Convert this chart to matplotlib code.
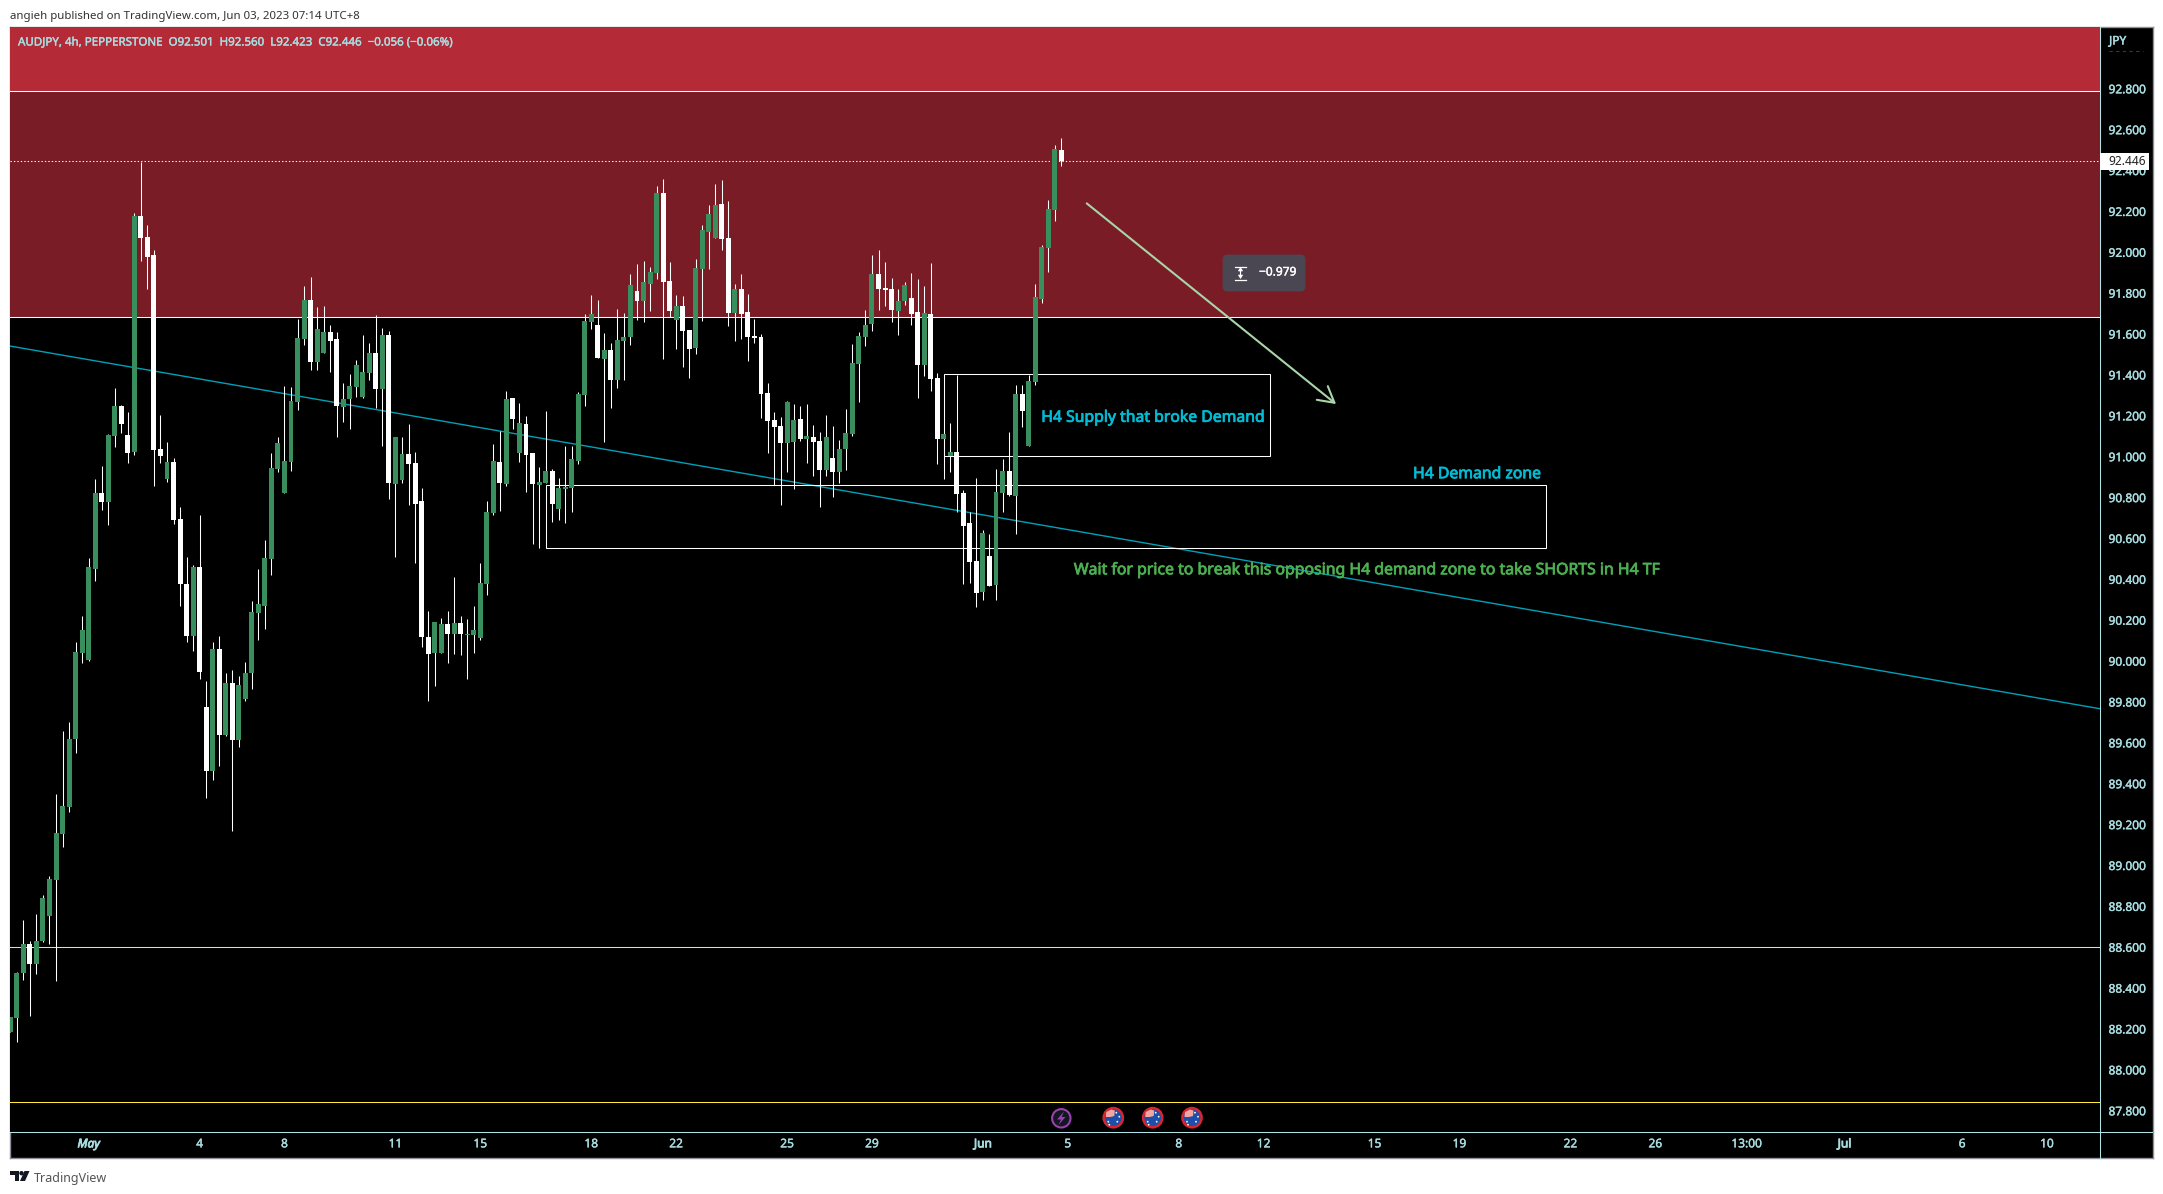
"""
plot.py - AUDJPY 4h TradingView snapshot, candles + hand drawn zones
Output: out.png
"""

import matplotlib
matplotlib.use("Agg")
import matplotlib.pyplot as plt
import matplotlib.patheffects as pe
from matplotlib.patches import Rectangle, Circle, Polygon, FancyBboxPatch
from matplotlib.lines import Line2D
from matplotlib.transforms import blended_transform_factory

# candles, oldest first
candle_open = [
    88.20, 88.268, 88.487, 88.627, 88.529, 88.641, 88.763, 88.939, 89.163, 89.294,
    89.627, 90.046, 90.011, 90.455, 90.826, 90.783, 91.103, 91.251, 91.11, 91.025,
    92.178, 92.075, 91.988, 91.042, 90.894, 90.978, 90.699, 90.383, 90.13, 90.465,
    89.783, 89.473, 90.064, 89.646, 89.9, 89.621, 89.822, 89.947, 90.241, 90.276,
    90.504, 90.943, 90.826, 90.978, 91.27, 91.578, 91.768, 91.467, 91.51, 91.612,
    91.578, 91.245, 91.285, 91.345, 91.297, 91.414, 91.51, 91.336, 91.597, 90.869,
    90.89, 91.017, 90.972, 90.787, 90.124, 90.046, 90.046, 90.188, 90.138, 90.192,
    90.135, 90.134, 90.12, 90.383, 90.73, 90.978, 90.871, 91.29, 91.022, 91.163,
    91.022, 90.866, 90.876, 90.934, 90.749, 90.846, 90.851, 90.983, 91.305, 91.661,
    91.646, 91.48, 91.524, 91.378, 91.568, 91.588, 91.812, 91.763, 91.846, 91.9,
    92.29, 91.861, 91.671, 91.739, 91.622, 91.534, 91.92, 92.1, 92.071, 92.237,
    92.071, 91.705, 91.822, 91.71, 91.593, 91.588, 91.315, 91.183, 91.154, 91.071,
    91.076, 91.188, 91.09, 91.1, 91.08, 90.939, 90.998, 90.929, 91.041, 91.115,
    91.456, 91.588, 91.651, 91.895, 91.827, 91.822, 91.715, 91.763, 91.778, 91.71,
    91.451, 91.7, 91.388, 91.09, 91.007, 91.027, 90.827, 90.68, 90.495, 90.344,
    90.52, 90.378, 90.827, 90.934, 90.812, 91.31, 91.056, 91.368, 91.773, 92.022,
    92.207, 92.501,
]
candle_high = [
    88.27, 88.49, 88.744, 88.64, 88.773, 88.867, 88.958, 89.36, 89.666, 89.709,
    90.099, 90.227, 90.51, 90.894, 90.958, 91.116, 91.34, 91.255, 91.222, 92.193,
    92.443, 92.134, 92.012, 91.206, 91.075, 90.997, 90.758, 90.514, 90.475, 90.719,
    89.908, 90.099, 90.128, 89.947, 89.964, 89.933, 90.003, 90.298, 90.455, 90.596,
    91.021, 91.1, 91.349, 91.344, 91.674, 91.837, 91.88, 91.734, 91.739, 91.646,
    91.612, 91.362, 91.407, 91.475, 91.6, 91.558, 91.695, 91.632, 91.617, 91.1,
    91.1, 91.163, 91.025, 90.851, 90.249, 90.198, 90.216, 90.249, 90.416, 90.227,
    90.212, 90.276, 90.483, 90.787, 91.064, 91.13, 91.324, 91.29, 91.264, 91.202,
    91.022, 90.954, 91.227, 90.944, 90.9, 91.056, 91.056, 91.32, 91.7, 91.793,
    91.768, 91.607, 91.559, 91.724, 91.705, 91.895, 91.944, 91.959, 91.929, 92.324,
    92.359, 91.954, 91.793, 91.788, 91.622, 91.968, 92.134, 92.232, 92.334, 92.354,
    92.251, 91.846, 91.895, 91.798, 91.676, 91.602, 91.363, 91.222, 91.198, 91.276,
    91.261, 91.251, 91.261, 91.159, 91.124, 91.207, 91.154, 91.085, 91.237, 91.554,
    91.612, 91.72, 91.988, 92.012, 91.954, 91.876, 91.822, 91.856, 91.9, 91.871,
    91.837, 91.949, 91.412, 91.115, 91.168, 91.402, 90.841, 90.734, 90.9, 90.646,
    90.627, 90.944, 90.993, 91.124, 91.354, 91.354, 91.402, 91.846, 92.037, 92.256,
    92.524, 92.56,
]
candle_low = [
    88.20, 88.15, 88.45, 88.278, 88.48, 88.637, 88.627, 88.446, 89.101, 89.272,
    89.56, 89.997, 90.007, 90.397, 90.744, 90.67, 91.05, 91.12, 90.972, 91.011,
    91.96, 91.82, 90.863, 90.972, 90.88, 90.674, 90.278, 90.1, 90.056, 89.921,
    89.34, 89.428, 89.496, 89.641, 89.18, 89.59, 89.812, 89.869, 90.11, 90.165,
    90.426, 90.927, 90.826, 90.935, 91.23, 91.55, 91.427, 91.427, 91.51, 91.418,
    91.10, 91.173, 91.14, 91.293, 91.288, 91.378, 91.24, 91.054, 90.80, 90.516,
    90.876, 90.77, 90.487, 90.077, 89.81, 89.886, 90.046, 90.0, 90.042, 90.036,
    89.921, 90.046, 90.11, 90.33, 90.721, 90.738, 90.863, 91.139, 90.978, 90.832,
    90.578, 90.56, 90.874, 90.685, 90.695, 90.682, 90.734, 90.968, 91.251, 91.627,
    91.485, 91.076, 91.241, 91.339, 91.378, 91.549, 91.67, 91.661, 91.715, 91.871,
    91.48, 91.685, 91.529, 91.441, 91.388, 91.505, 91.666, 91.92, 92.071, 92.012,
    91.641, 91.568, 91.578, 91.471, 91.559, 91.193, 91.022, 90.866, 90.768, 90.929,
    90.846, 91.08, 90.973, 90.91, 90.759, 90.91, 90.807, 90.876, 90.939, 91.105,
    91.271, 91.544, 91.617, 91.72, 91.739, 91.661, 91.598, 91.744, 91.646, 91.29,
    91.398, 91.324, 90.968, 90.895, 90.929, 90.734, 90.383, 90.388, 90.27, 90.305,
    90.373, 90.305, 90.734, 90.812, 90.627, 91.149, 91.056, 91.354, 91.754, 91.905,
    92.154, 92.423,
]
candle_close = [
    88.27, 88.487, 88.627, 88.529, 88.64, 88.851, 88.943, 89.167, 89.298, 89.627,
    90.05, 90.159, 90.465, 90.826, 90.783, 91.11, 91.251, 91.163, 91.021, 92.178,
    92.072, 91.98, 91.038, 91.005, 90.978, 90.695, 90.383, 90.13, 90.465, 89.954,
    89.473, 90.064, 89.646, 89.9, 89.621, 89.89, 89.947, 90.245, 90.284, 90.51,
    90.947, 91.071, 90.982, 91.276, 91.581, 91.768, 91.467, 91.627, 91.612, 91.57,
    91.253, 91.285, 91.349, 91.451, 91.417, 91.51, 91.336, 91.597, 90.878, 91.1,
    91.017, 90.966, 90.775, 90.124, 90.042, 90.198, 90.188, 90.138, 90.192, 90.138,
    90.138, 90.159, 90.387, 90.734, 90.982, 90.875, 91.285, 91.188, 91.168, 91.012,
    90.871, 90.882, 90.934, 90.773, 90.851, 90.856, 90.993, 91.31, 91.666, 91.7,
    91.485, 91.524, 91.378, 91.573, 91.588, 91.841, 91.763, 91.856, 91.905, 92.29,
    91.856, 91.715, 91.739, 91.617, 91.529, 91.924, 92.11, 92.188, 92.232, 92.066,
    91.705, 91.822, 91.7, 91.588, 91.583, 91.31, 91.178, 91.149, 91.071, 91.271,
    91.183, 91.09, 91.105, 91.076, 90.939, 91.1, 90.929, 91.041, 91.12, 91.461,
    91.593, 91.646, 91.895, 91.822, 91.817, 91.72, 91.763, 91.841, 91.7, 91.451,
    91.705, 91.383, 91.09, 91.115, 91.027, 90.822, 90.666, 90.49, 90.339, 90.632,
    90.373, 90.832, 90.934, 90.817, 91.31, 91.227, 91.373, 91.783, 92.027, 92.212,
    92.505, 92.446,
]

price_ticks = [92.8, 92.6, 92.4, 92.2, 92.0, 91.8, 91.6, 91.4, 91.2, 91.0, 90.8,
               90.6, 90.4, 90.2, 90.0, 89.8, 89.6, 89.4, 89.2, 89.0, 88.8, 88.6,
               88.4, 88.2, 88.0, 87.8]
time_ticks = [12, 29, 42, 59, 72, 89, 102, 119, 132, 149, 162, 179, 192, 209, 222,
              239, 252, 266, 281, 299, 312]
time_labels = ["May", "4", "8", "11", "15", "18", "22", "25", "29", "Jun", "5", "8",
               "12", "15", "19", "22", "26", "13:00", "Jul", "6", "10"]

last_price = 92.446
supply_zone = (91.680, 92.787)
trend_line_bars = [-0.05, 320.05]
trend_line_prices = [91.539, 89.765]
level_lines = [88.6, 87.84]
supply_box = (143.1, 192.9, 91.0, 91.401)
demand_box = (82.0, 235.3, 90.55, 90.858)
arrow_from = (164.9, 92.237)
arrow_to = (203.1, 91.255)
range_value = "\u22120.979"

UP_COLOR = "#388E5C"
DOWN_COLOR = "#FFFFFF"
AXIS_TEXT = "#A8DCE0"
SPINE = "#B2E3E6"
CYAN_TEXT = "#00BCD4"
GREEN_TEXT = "#4CAF50"
FONT = "Noto Sans"

W, H = 2163, 1194
# chart pane edges in pixels
PANE_L, PANE_R, PANE_T, PANE_B = 10, 2099.5, 27, 1131.5
LINE_1PX = 0.75


def rescale(prices):
    # candle readings were taken at 205 px per yen, the scale is really 204.4
    return [92.8 - (92.8 - p) * 205 / 204.4 - 0.001 for p in prices]


def thick(color, width=0.3):
    # Noto Sans only comes in one weight here, so a thin stroke stands in for bold
    return [pe.withStroke(linewidth=width, foreground=color)]


candle_open = rescale(candle_open)
candle_high = rescale(candle_high)
candle_low = rescale(candle_low)
candle_close = rescale(candle_close)

plt.rcParams["font.family"] = [FONT, "DejaVu Sans"]
fig = plt.figure(figsize=(W / 100, H / 100), dpi=100, facecolor="white")

# black backing that also holds the price and time scales
back = fig.add_axes([10 / W, 1 - 1158 / H, (2152.5 - 10) / W, (1158 - 27) / H])
back.set_facecolor("black")
back.set_xticks([])
back.set_yticks([])
for s in back.spines.values():
    s.set_color("#8C8F99")
    s.set_linewidth(1.0)

ax = fig.add_axes([PANE_L / W, 1 - PANE_B / H, (PANE_R - PANE_L) / W, (PANE_B - PANE_T) / H])
ax.set_facecolor("black")
ax.set_xlim(-0.05, 320.05)
ax.set_ylim(92.8 - (PANE_B - 88.3) / 204.4, 92.8 + (88.3 - PANE_T) / 204.4)

for name in ["top", "left"]:
    ax.spines[name].set_visible(False)
for name in ["bottom", "right"]:
    ax.spines[name].set_color(SPINE)
    ax.spines[name].set_linewidth(LINE_1PX)

# supply zone: the band itself plus whatever sits above it
ax.axhspan(supply_zone[1], 93.2, color="#B42A37", lw=0, zorder=0)
ax.axhspan(supply_zone[0], supply_zone[1], color="#7A1C25", lw=0, zorder=0)
for lvl in supply_zone:
    ax.axhline(lvl, color="white", lw=LINE_1PX, zorder=1)
for lvl in level_lines:
    ax.axhline(lvl, color="#FFE93B", lw=LINE_1PX, zorder=1)
ax.axhline(last_price, color="white", lw=LINE_1PX, ls=(0, (1.3, 2)), zorder=1)
ax.plot(trend_line_bars, trend_line_prices, color="#00A0B8", lw=1.0, zorder=1)

for x0, x1, y0, y1 in [supply_box, demand_box]:
    ax.add_patch(Rectangle((x0, y0), x1 - x0, y1 - y0, fill=False,
                           edgecolor="white", lw=LINE_1PX, zorder=1))

# candles go on top of all the drawings
xs = list(range(len(candle_open)))
colors = [UP_COLOR if c >= o else DOWN_COLOR for o, c in zip(candle_open, candle_close)]
ax.vlines(xs, candle_low, candle_high, color="white", lw=LINE_1PX, zorder=3)
bottoms = [min(o, c) for o, c in zip(candle_open, candle_close)]
heights = [max(abs(c - o), 0.006) for o, c in zip(candle_open, candle_close)]
ax.bar(xs, heights, bottom=bottoms, width=0.76, color=colors, lw=0, zorder=4)

ax.annotate("", xy=arrow_to, xytext=arrow_from, zorder=5,
            arrowprops=dict(arrowstyle="->,head_length=0.8,head_width=0.45",
                            color="#A9D6A8", lw=1.5, shrinkA=0, shrinkB=0,
                            mutation_scale=14))

ax.text(175.1, 91.188, "H4 Supply that broke Demand", color=CYAN_TEXT, fontsize=11.35,
        ha="center", va="center", zorder=6, path_effects=thick(CYAN_TEXT, 0.55))
ax.text(224.7, 90.912, "H4 Demand zone", color=CYAN_TEXT, fontsize=11.35,
        ha="center", va="center", zorder=6, path_effects=thick(CYAN_TEXT, 0.55))
ax.text(207.9, 90.442, "Wait for price to break this opposing H4 demand zone to take SHORTS in H4 TF",
        color=GREEN_TEXT, fontsize=11.4, ha="center", va="center", zorder=6,
        path_effects=thick(GREEN_TEXT, 0.55))

# price scale
ax.yaxis.tick_right()
ax.set_yticks(price_ticks)
ax.set_yticklabels([f"{p:.3f}" for p in price_ticks])
ax.tick_params(axis="y", length=0, pad=6.5, labelsize=8.6, labelcolor=AXIS_TEXT)
for lab in ax.get_yticklabels():
    lab.set_path_effects(thick(AXIS_TEXT))

# time scale
ax.set_xticks(time_ticks)
ax.set_xticklabels(time_labels)
ax.tick_params(axis="x", length=0, pad=4.2, labelsize=8.6, labelcolor=AXIS_TEXT)
for lab in ax.get_xticklabels():
    if lab.get_text() in ("May", "Jun", "Jul"):
        lab.set_path_effects(thick(AXIS_TEXT, 0.6))
    else:
        lab.set_path_effects(thick(AXIS_TEXT))
    if lab.get_text() == "May":
        lab.set_fontstyle("italic")

# tag with the last price on the scale
trans = blended_transform_factory(ax.transAxes, ax.transData)
ax.add_patch(Rectangle((1.0, last_price - 0.046), 49 / (PANE_R - PANE_L), 0.084, transform=trans,
                       facecolor="white", edgecolor="none", clip_on=False, zorder=7))
ax.text(1.0 + 9 / (PANE_R - PANE_L), last_price - 0.005, f"{last_price:.3f}", transform=trans,
        color="#222222", fontsize=8.6, ha="left", va="center", clip_on=False, zorder=8)

# overlay in pixels, for the page furniture and the icons
ov = fig.add_axes([0, 0, 1, 1], facecolor="none")
ov.set_xlim(0, W)
ov.set_ylim(H, 0)
ov.axis("off")

# scale separators run on through the corner cell
ov.add_artist(Line2D([2099.5, 2099.5], [1131.5, 1158], color=SPINE, lw=LINE_1PX))
ov.add_artist(Line2D([2099.5, 2152], [1131.5, 1131.5], color=SPINE, lw=LINE_1PX))

ov.text(10, 16.5, "angieh published on TradingView.com, Jun 03, 2023 07:14 UTC+8",
        color="#333333", fontsize=8.25, va="center", ha="left")
ov.text(18, 43, "AUDJPY, 4h, PEPPERSTONE  O92.501  H92.560  L92.423  C92.446  \u22120.056 (\u22120.06%)",
        color=AXIS_TEXT, fontsize=8.3, va="center", ha="left", path_effects=thick(AXIS_TEXT))
ov.text(2109, 41, "JPY", color=AXIS_TEXT, fontsize=8.6, va="center", ha="left",
        path_effects=thick(AXIS_TEXT))
ov.add_artist(Line2D([2109, 2143], [51, 51], color="#3A3A3A", lw=0.8, ls=(0, (3, 3))))

# measure label next to the arrow
ov.add_patch(FancyBboxPatch((1224, 256), 80, 34, boxstyle="round,pad=0,rounding_size=3",
                            facecolor="#4A4753", edgecolor="#4A4753", lw=2, zorder=3))
ov.plot([1235, 1246], [266.5, 266.5], color="white", lw=0.9, zorder=4)
ov.plot([1235, 1246], [279.5, 279.5], color="white", lw=0.9, zorder=4)
ov.annotate("", xy=(1240.5, 267), xytext=(1240.5, 279), zorder=4,
            arrowprops=dict(arrowstyle="<|-|>,head_length=0.2,head_width=0.13", color="white",
                            lw=0.8, shrinkA=0, shrinkB=0, mutation_scale=10))
ov.text(1259, 272, range_value, color="white", fontsize=8.6, va="center", ha="left", zorder=4,
        path_effects=thick("white"))

# event markers along the bottom of the pane
ov.add_patch(Circle((1061.3, 1118.3), 9.2, facecolor="#131722", edgecolor="#9C3FB0", lw=1.5))
ov.add_patch(Polygon([(1064, 1111.5), (1057, 1119.5), (1061, 1119.5), (1058.5, 1125),
                      (1065.5, 1117), (1061.5, 1117)], closed=True, facecolor="#9C3FB0", edgecolor="none"))
for cx in [1113.3, 1152.7, 1192.0]:
    ov.add_patch(Circle((cx, 1117.7), 9.6, facecolor="#1F4EA8", edgecolor="#D8262F", lw=1.8))
    ov.add_patch(Polygon([(cx - 7.5, 1117), (cx - 7, 1112), (cx - 2, 1109.5), (cx + 1.5, 1110.5),
                          (cx + 1, 1116), (cx - 3, 1117)], closed=True, facecolor="#F3A6A0", edgecolor="none"))
    for dx, dy in [(-4, 7), (4, 4), (6, -1), (3, -5), (-5, 4)]:
        ov.add_patch(Circle((cx + dx, 1117.7 + dy), 0.9, facecolor="white", edgecolor="none"))

# TradingView mark at the bottom left
ov.add_patch(Polygon([(10, 1171), (19, 1171), (19, 1181), (14.5, 1181), (14.5, 1175), (10, 1175)],
                     closed=True, facecolor="#131722", edgecolor="none"))
ov.add_patch(Circle((21.5, 1173.2), 2.2, facecolor="#131722", edgecolor="none"))
ov.add_patch(Polygon([(24.5, 1171), (29.5, 1171), (25, 1181), (20, 1181)],
                     closed=True, facecolor="#131722", edgecolor="none"))
ov.text(33.5, 1178.5, "TradingView", color="#555555", fontsize=9.0, va="center", ha="left")

fig.savefig("out.png", dpi=100, facecolor="white")
